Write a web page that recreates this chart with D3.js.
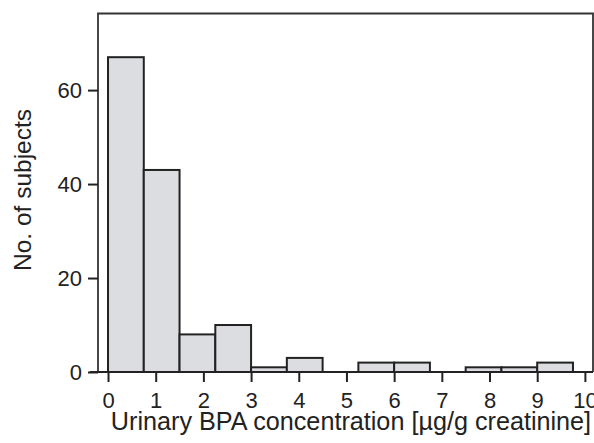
<!DOCTYPE html>
<html>
<head>
<meta charset="utf-8">
<script src="https://cdn.jsdelivr.net/npm/d3@7"></script>
<style>
  body { margin: 0; background: #fff; }
  text { font-family: "Liberation Sans", Arial, sans-serif; fill: #222; }
</style>
</head>
<body>
<div class="content"></div>
<script>
// histogram bins (µg/g creatinine), width 0.75
const binStarts = [0, 0.75, 1.5, 2.25, 3, 3.75, 4.5, 5.25, 6, 6.75, 7.5, 8.25, 9];
const binWidth = 0.75;
const counts = [67, 43, 8, 10, 1, 3, 0, 2, 2, 0, 1, 1, 2];
const xTicks = [0, 1, 2, 3, 4, 5, 6, 7, 8, 9, 10];
const yTicks = [0, 20, 40, 60];

function main() {
  const svgW = 594, svgH = 443;
  const svg = d3.select('.content').append('svg')
                .attr('width', svgW)
                .attr('height', svgH);

  const left = 98, right = 593, top = 13.5, bottom = 372;

  const x = d3.scaleLinear().domain([-0.21, 10.17]).range([left, right]);
  const y = d3.scaleLinear().domain([0, 76.3]).range([bottom, top]);

  const bins = binStarts.map((b, i) => ({ x0: b, n: counts[i] })).filter(d => d.n > 0);

  // bars
  svg.append('g').selectAll('rect')
    .data(bins)
    .enter().append('rect')
      .attr('x', d => x(d.x0))
      .attr('y', d => y(d.n))
      .attr('height', d => y(0) - y(d.n))
      .attr('width', x(binWidth) - x(0))
      .attr('fill', '#dcdde0')
      .attr('stroke', '#222')
      .attr('stroke-width', 2);

  // frame (top / right)
  svg.append('path')
    .attr('d', `M${left},${bottom}V${top}H${right}V${bottom}`)
    .attr('fill', 'none')
    .attr('stroke', '#333')
    .attr('stroke-width', 1.8);

  // x axis
  const gx = svg.append('g')
    .attr('transform', `translate(0,${bottom})`)
    .call(d3.axisBottom(x).tickValues(xTicks).tickSize(10).tickSizeOuter(0).tickFormat(d3.format('d')));
  gx.select('.domain').attr('stroke', '#222').attr('stroke-width', 2)
    .attr('d', `M${left - 8},0H${right}`);
  gx.selectAll('.tick line').attr('stroke', '#222').attr('stroke-width', 2);
  gx.selectAll('.tick text').attr('font-size', 22).attr('dy', 0).attr('y', 35.5)
    .attr('fill', '#222');

  // y axis
  const gy = svg.append('g')
    .attr('transform', `translate(${left},0)`)
    .call(d3.axisLeft(y).tickValues(yTicks).tickSize(10).tickSizeOuter(0));
  gy.select('.domain').remove();
  gy.selectAll('.tick line').attr('stroke', '#222').attr('stroke-width', 2);
  gy.selectAll('.tick text').attr('font-size', 22).attr('x', -16).attr('fill', '#222');

  // axis titles
  svg.append('text')
    .attr('x', 351).attr('y', 430)
    .attr('text-anchor', 'middle')
    .attr('font-size', 25.2)
    .text('Urinary BPA concentration [µg/g creatinine]');

  svg.append('text')
    .attr('transform', 'translate(31,190) rotate(-90)')
    .attr('text-anchor', 'middle')
    .attr('font-size', 24.5)
    .text('No. of subjects');
}
main();
</script>
</body>
</html>
